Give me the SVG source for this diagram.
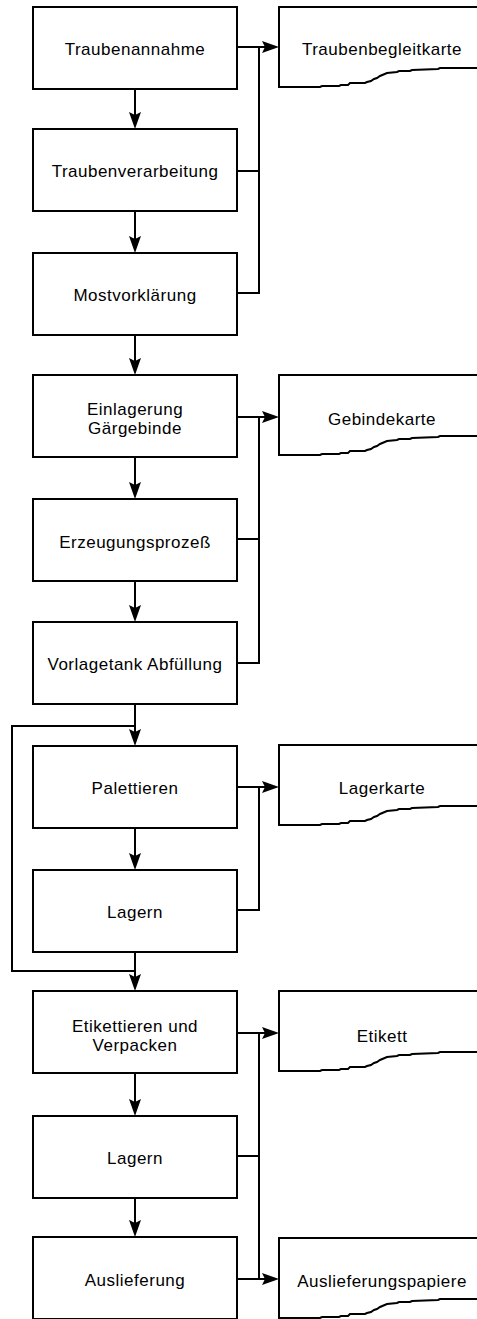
<svg xmlns="http://www.w3.org/2000/svg" xmlns:xlink="http://www.w3.org/1999/xlink" width="477" height="1319" viewBox="0 0 477 1319">
  <style>
    .box { fill: #ffffff; stroke: #000000; stroke-width: 2; }
    .doc { fill: #ffffff; stroke: #000000; stroke-width: 2; stroke-linejoin: miter; }
    .lbl { font-family: "Liberation Sans", Arial, sans-serif; font-size: 17px; letter-spacing: 0.5px; fill: #000000; text-anchor: middle; }
    .wire { fill: none; stroke: #000000; stroke-width: 2; }
  </style>
  <defs>
    <marker id="ah" viewBox="-6 -7 19 14" refX="0" refY="0" markerWidth="19" markerHeight="14" markerUnits="userSpaceOnUse" orient="auto">
      <path d="M12,0 L-5,-6 L-2,0 L-5,6 Z" fill="#000000"/>
    </marker>
    <!-- document card: open to the right, torn lower edge -->
    <path id="docShape" d="M198,0 L0,0 L0,80 L41,80 L43,79 L60,79 L62,78 L69,78 L71,76 L86,76 L88,75 L92,74 L95,72 L98,71 L101,69 L108,66 L118,65 L120,64 L131,64 L133,63 L159,62 L161,61 L198,61"/>
  </defs>

  <rect width="477" height="1319" fill="#ffffff"/>

  <!-- connectors -->
  <g id="connectors" class="wire">
    <!-- main flow -->
    <line x1="135" y1="89" x2="135" y2="117" marker-end="url(#ah)"/>
    <line x1="135" y1="211" x2="135" y2="241" marker-end="url(#ah)"/>
    <line x1="135" y1="335" x2="135" y2="363" marker-end="url(#ah)"/>
    <line x1="135" y1="457" x2="135" y2="487" marker-end="url(#ah)"/>
    <line x1="135" y1="581" x2="135" y2="610" marker-end="url(#ah)"/>
    <line x1="135" y1="704" x2="135" y2="734" marker-end="url(#ah)"/>
    <line x1="135" y1="828" x2="135" y2="858" marker-end="url(#ah)"/>
    <line x1="135" y1="952" x2="135" y2="979" marker-end="url(#ah)"/>
    <line x1="135" y1="1073" x2="135" y2="1104" marker-end="url(#ah)"/>
    <line x1="135" y1="1198" x2="135" y2="1225" marker-end="url(#ah)"/>
    <!-- bypass loop around storage -->
    <path d="M135,726 L12,726 L12,971 L135,971"/>

    <!-- Traubenbegleitkarte bus -->
    <line x1="237" y1="47" x2="267" y2="47" marker-end="url(#ah)"/>
    <path d="M237,171 L259,171"/>
    <path d="M259,47 L259,293 L237,293"/>

    <!-- Gebindekarte bus -->
    <line x1="237" y1="417" x2="267" y2="417" marker-end="url(#ah)"/>
    <path d="M237,539 L259,539"/>
    <path d="M259,417 L259,663 L237,663"/>

    <!-- Lagerkarte bus -->
    <line x1="237" y1="787" x2="267" y2="787" marker-end="url(#ah)"/>
    <path d="M259,787 L259,910 L237,910"/>

    <!-- Etikett / Auslieferungspapiere bus -->
    <line x1="237" y1="1033" x2="267" y2="1033" marker-end="url(#ah)"/>
    <path d="M237,1156 L259,1156"/>
    <path d="M259,1033 L259,1279"/>
    <line x1="237" y1="1279" x2="267" y2="1279" marker-end="url(#ah)"/>
  </g>

  <!-- process steps -->
  <g id="n-traubenannahme">
    <rect class="box" x="33" y="7" width="204" height="82"/>
    <text class="lbl" x="135" y="55">Traubenannahme</text>
  </g>
  <g id="n-traubenverarbeitung">
    <rect class="box" x="33" y="129" width="204" height="82"/>
    <text class="lbl" x="135" y="177">Traubenverarbeitung</text>
  </g>
  <g id="n-mostvorklaerung">
    <rect class="box" x="33" y="253" width="204" height="82"/>
    <text class="lbl" x="135" y="301">Mostvorklärung</text>
  </g>
  <g id="n-einlagerung">
    <rect class="box" x="33" y="375" width="204" height="82"/>
    <text class="lbl" x="135" y="415">Einlagerung</text>
    <text class="lbl" x="135" y="434">Gärgebinde</text>
  </g>
  <g id="n-erzeugungsprozess">
    <rect class="box" x="33" y="499" width="204" height="82"/>
    <text class="lbl" x="135" y="548">Erzeugungsprozeß</text>
  </g>
  <g id="n-vorlagetank">
    <rect class="box" x="33" y="622" width="204" height="82"/>
    <text class="lbl" x="135" y="670">Vorlagetank Abfüllung</text>
  </g>
  <g id="n-palettieren">
    <rect class="box" x="33" y="746" width="204" height="82"/>
    <text class="lbl" x="135" y="794">Palettieren</text>
  </g>
  <g id="n-lagern1">
    <rect class="box" x="33" y="870" width="204" height="82"/>
    <text class="lbl" x="135" y="918">Lagern</text>
  </g>
  <g id="n-etikettieren">
    <rect class="box" x="33" y="991" width="204" height="82"/>
    <text class="lbl" x="135" y="1032">Etikettieren und</text>
    <text class="lbl" x="135" y="1051">Verpacken</text>
  </g>
  <g id="n-lagern2">
    <rect class="box" x="33" y="1116" width="204" height="82"/>
    <text class="lbl" x="135" y="1164">Lagern</text>
  </g>
  <g id="n-auslieferung">
    <rect class="box" x="33" y="1237" width="204" height="82"/>
    <text class="lbl" x="135" y="1286">Auslieferung</text>
  </g>

  <!-- documents -->
  <g id="d-traubenbegleitkarte">
    <use xlink:href="#docShape" class="doc" transform="translate(279,7)"/>
    <text class="lbl" x="382" y="55">Traubenbegleitkarte</text>
  </g>
  <g id="d-gebindekarte">
    <use xlink:href="#docShape" class="doc" transform="translate(279,375)"/>
    <text class="lbl" x="382" y="425">Gebindekarte</text>
  </g>
  <g id="d-lagerkarte">
    <use xlink:href="#docShape" class="doc" transform="translate(279,745)"/>
    <text class="lbl" x="382" y="794">Lagerkarte</text>
  </g>
  <g id="d-etikett">
    <use xlink:href="#docShape" class="doc" transform="translate(279,991)"/>
    <text class="lbl" x="382" y="1042">Etikett</text>
  </g>
  <g id="d-auslieferungspapiere">
    <use xlink:href="#docShape" class="doc" transform="translate(279,1238)"/>
    <text class="lbl" x="382" y="1287">Auslieferungspapiere</text>
  </g>
</svg>
